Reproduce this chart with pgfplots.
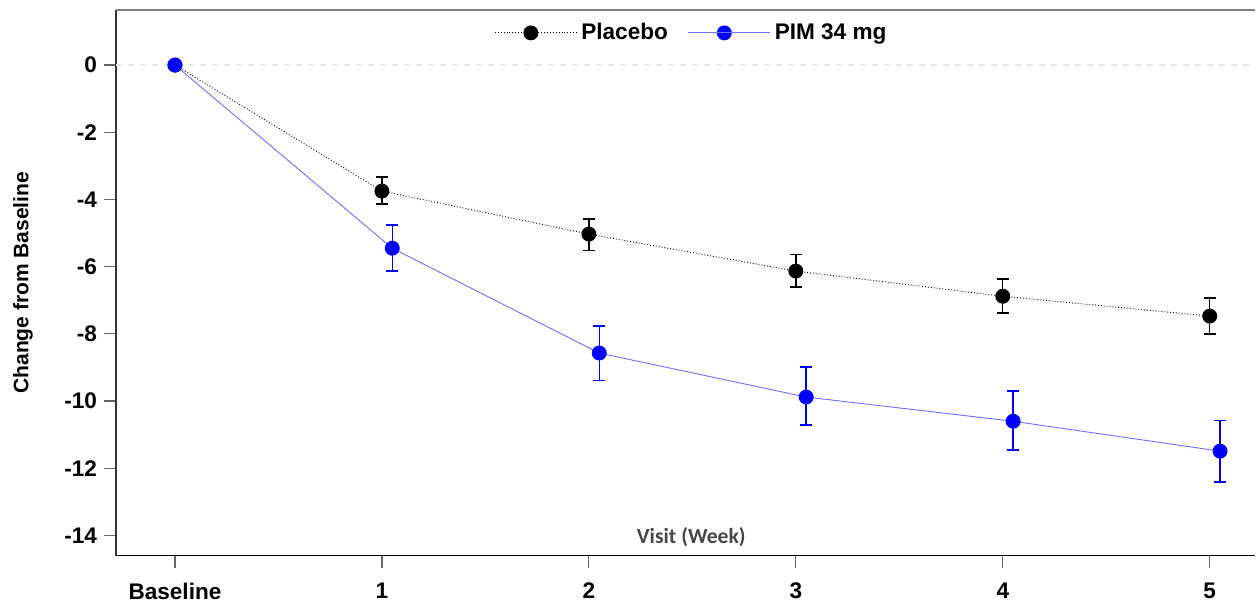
\documentclass[border=0pt]{standalone}
\usepackage{fontspec}
\setmainfont{Liberation Sans}
\newfontfamily\visitfont{Carlito}
\usepackage{pgfplots}
\pgfplotsset{compat=1.18}
\usepackage{pgfplotstable}

% upper/lower half-widths of the error bars
\pgfplotstableread{
x     y      ep    em
0     0      0     0
1     -3.75  0.42  0.39
2     -5.03  0.45  0.48
3     -6.13  0.50  0.48
4     -6.88  0.51  0.50
5     -7.47  0.54  0.53
}\placebo
\pgfplotstableread{
x     y       ep    em
0     0       0     0
1.05  -5.45   0.69  0.68
2.05  -8.57   0.80  0.81
3.05  -9.88   0.89  0.83
4.05  -10.60  0.90  0.86
5.05  -11.49  0.92  0.92
}\pim

\definecolor{pimblue}{RGB}{0,0,255}
\definecolor{pimline}{RGB}{110,110,255}

\begin{document}
\begin{tikzpicture}
\begin{axis}[
    scale only axis,
    width=570pt, height=273pt,
    xmin=-0.285, xmax=5.22,
    ymin=-14.6, ymax=1.64,
    axis x line*=bottom,
    axis y line*=left,
    x axis line style={line width=0.75pt, -},
    y axis line style={line width=1pt, draw=black!80, -},
    tick align=outside,
    major tick length=6pt,
    tick style={black!60, line width=0.6pt},
    xtick={0,1,2,3,4,5},
    xticklabels={Baseline,1,2,3,4,5},
    ytick={0,-2,-4,-6,-8,-10,-12,-14},
    yticklabels={0,-2,-4,-6,-8,-10,-12,-14},
    ticklabel style={font=\bfseries\fontsize{11.3}{13}\selectfont},
    xticklabel style={yshift=-4pt},
    ylabel={Change from Baseline},
    every axis y label/.style={at={(rel axis cs:-0.0816,0.5)}, rotate=90, anchor=center,
        font=\bfseries\fontsize{10.5}{12}\selectfont},
    xlabel={Visit (Week)},
    every axis x label/.style={at={(rel axis cs:0.505,0.0348)}, anchor=center,
        font=\visitfont\bfseries\fontsize{10.8}{12}\selectfont, text=black!72},
    clip=false,
    legend columns=2,
    legend style={at={(rel axis cs:0.506,0.958)}, anchor=center, draw=none, fill=none,
        font=\bfseries\fontsize{11.3}{13}\selectfont,
        /tikz/every even column/.append style={column sep=8pt}},
    legend image code/.code={\draw[mark repeat=2,mark phase=2,#1]
        plot coordinates {(0pt,0pt) (18pt,0pt) (36pt,0pt)};
        \path (0pt,0pt) -- (41pt,0pt);},
]
% zero reference line and top frame line
\addplot[forget plot, black!9, dashed, line width=0.6pt] coordinates {(-0.285,0) (5.22,0)};
\addplot[forget plot, black!50, line width=0.6pt] coordinates {(-0.285,1.64) (5.22,1.64)};

\addplot[black, densely dotted, line width=0.45pt,
    mark=*, mark size=3.5pt, mark options={solid, fill=black},
    error bars/.cd, y dir=both, y explicit,
    error bar style={solid, black, line width=0.7pt},
    error mark options={rotate=90, mark size=3pt, line width=0.7pt, black}]
    table[x=x, y=y, y error plus=ep, y error minus=em] {\placebo};
\addlegendentry{Placebo}

\addplot[pimline, line width=0.45pt,
    mark=*, mark size=3.5pt, mark options={draw=pimblue, fill=pimblue},
    error bars/.cd, y dir=both, y explicit,
    error bar style={pimblue, line width=0.7pt},
    error mark options={rotate=90, mark size=3pt, line width=0.7pt, pimblue}]
    table[x=x, y=y, y error plus=ep, y error minus=em] {\pim};
\addlegendentry{PIM 34 mg}

% page extent matching the reference frame
\path (rel axis cs:-0.1018,1.0183) rectangle (rel axis cs:1,-0.0824);
\end{axis}
\end{tikzpicture}
\end{document}
